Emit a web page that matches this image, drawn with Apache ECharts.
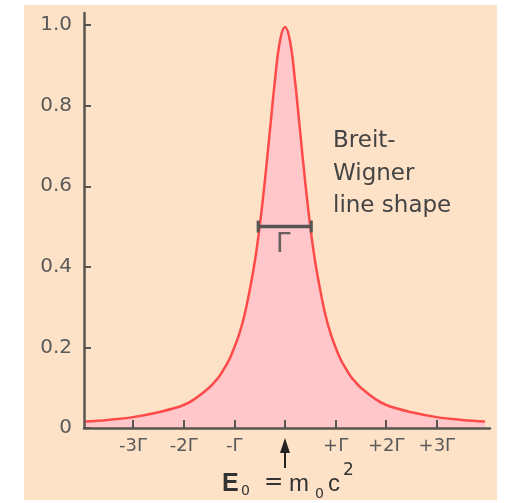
<!DOCTYPE html>
<html>
<head>
<meta charset="utf-8">
<script src="https://cdn.jsdelivr.net/npm/echarts@6/dist/echarts.min.js"></script>
<style>
  html, body { margin: 0; padding: 0; background: #ffffff; }
  #bg { position: absolute; left: 24px; top: 5px; width: 473px; height: 495px; background: #fde2c7; }
  #main { position: absolute; left: 0; top: 0; width: 506px; height: 503px; }
</style>
</head>
<body>
<div id="bg"></div>
<div id="main"></div>
<script>
// curve (x in units of Γ, y relative height)
const xs = [-3.95, -3.5, -3, -2.5, -2, -1.75, -1.5, -1.4, -1.3, -1.2, -1.1, -1, -0.9, -0.8, -0.7, -0.6, -0.5, -0.4, -0.3, -0.2, -0.1, 0,
            0.1, 0.2, 0.3, 0.4, 0.5, 0.6, 0.7, 0.8, 0.9, 1, 1.1, 1.2, 1.3, 1.4, 1.5, 1.75, 2, 2.5, 3, 3.5, 3.95]
const ys = [0.016, 0.020, 0.027, 0.039, 0.057, 0.075, 0.10, 0.113, 0.128, 0.148, 0.17, 0.20, 0.235, 0.28, 0.34, 0.41, 0.50, 0.61, 0.735, 0.86, 0.96, 0.995,
            0.96, 0.86, 0.735, 0.61, 0.50, 0.41, 0.34, 0.28, 0.235, 0.20, 0.17, 0.148, 0.128, 0.113, 0.10, 0.075, 0.057, 0.039, 0.027, 0.020, 0.016]

const yTicks = [0, 0.2, 0.4, 0.6, 0.8, 1.0]
const yTickLabels = ['0', '0.2', '0.4', '0.6', '0.8', '1.0']
const xTicks = [-3, -2, -1, 0, 1, 2, 3]
const xTickLabels = ['-3Γ', '-2Γ', '-Γ', '', '+Γ', '+2Γ', '+3Γ']

// full width at half maximum
const halfX = [-0.53, 0.52]
const halfY = 0.5

const FONT = 'DejaVu Sans, sans-serif'
const AXIS = '#5a5550'

const chart = echarts.init(document.getElementById('main'))

const option = {
  backgroundColor: 'transparent',
  animation: false,
  grid: { left: 84, right: 16, top: 13, bottom: 75 },
  xAxis: {
    type: 'value',
    min: -3.97,
    max: 4.05,
    z: 5,
    splitLine: { show: false },
    axisLine: { show: true, onZero: false, lineStyle: { color: AXIS, width: 2.5 } },
    axisTick: { show: true, inside: true, length: 8, customValues: xTicks, lineStyle: { color: AXIS, width: 2 } },
    axisLabel: {
      customValues: xTicks,
      margin: 9,
      color: '#5a5a5a',
      fontSize: 18,
      fontFamily: FONT,
      formatter: v => xTickLabels[xTicks.indexOf(Math.round(v))] || ''
    }
  },
  yAxis: {
    type: 'value',
    min: 0,
    max: 1.03,
    z: 5,
    splitLine: { show: false },
    axisLine: { show: true, onZero: false, lineStyle: { color: AXIS, width: 2.5 } },
    axisTick: { show: true, inside: true, length: 7, customValues: yTicks, lineStyle: { color: AXIS, width: 2 } },
    axisLabel: {
      customValues: yTicks,
      margin: 12,
      color: '#5a5a5a',
      fontSize: 20,
      fontFamily: FONT,
      formatter: v => yTickLabels[yTicks.indexOf(Math.round(v * 10) / 10)] || ''
    }
  },
  series: [
    {
      name: 'Breit-Wigner',
      type: 'line',
      data: xs.map((x, i) => [x, ys[i]]),
      smooth: 0.4,
      showSymbol: false,
      lineStyle: { color: '#ff4a4a', width: 2.5 },
      areaStyle: { color: '#ffc7c9', opacity: 1 },
      z: 2
    },
    {
      name: 'FWHM',
      type: 'line',
      data: halfX.map(x => [x, halfY]),
      symbol: 'rect',
      symbolSize: [3, 12],
      showSymbol: true,
      itemStyle: { color: '#555' },
      lineStyle: { color: '#555', width: 3.5 },
      z: 3
    },
    {
      name: 'Gamma',
      type: 'scatter',
      data: [[(halfX[0] + halfX[1]) / 2 - 0.03, halfY]],
      symbolSize: 0,
      label: {
        show: true,
        position: 'bottom',
        distance: 6,
        formatter: 'Γ',
        fontSize: 26,
        fontFamily: FONT,
        color: '#444'
      },
      z: 3
    }
  ]
}

chart.setOption(option)

// arrow at E0, placed from data coordinates
const p0 = chart.convertToPixel({ gridIndex: 0 }, [0, 0])
const ax = p0[0]
const ay = p0[1]

chart.setOption({
  graphic: [
    {
      type: 'text',
      left: 333, top: 125,
      style: {
        text: 'Breit-\nWigner\nline shape',
        font: '23px ' + FONT,
        lineHeight: 32.5,
        fill: '#444'
      }
    },
    {
      type: 'polygon',
      shape: { points: [[ax, ay + 10], [ax - 5, ay + 25], [ax + 5, ay + 25]] },
      style: { fill: '#222' }
    },
    {
      type: 'line',
      shape: { x1: ax, y1: ay + 22, x2: ax, y2: ay + 40 },
      style: { stroke: '#222', lineWidth: 2 }
    },
    // E0 = m0 c^2
    { type: 'text', x: 222, y: 472, style: { text: 'E', font: 'bold 25px Liberation Sans, Arial, sans-serif', fill: '#333' } },
    { type: 'text', x: 241, y: 484, style: { text: '0', font: '14px ' + FONT, fill: '#333' } },
    { type: 'text', x: 264, y: 472, style: { text: '=', font: '23px ' + FONT, fill: '#333' } },
    { type: 'text', x: 289, y: 472, style: { text: 'm', font: '24px Liberation Sans, Arial, sans-serif', fill: '#333' } },
    { type: 'text', x: 315, y: 487, style: { text: '0', font: '14px ' + FONT, fill: '#333' } },
    { type: 'text', x: 328, y: 472, style: { text: 'c', font: '24px Liberation Sans, Arial, sans-serif', fill: '#333' } },
    { type: 'text', x: 343, y: 462, style: { text: '2', font: '17px ' + FONT, fill: '#333' } }
  ]
})
</script>
</body>
</html>
